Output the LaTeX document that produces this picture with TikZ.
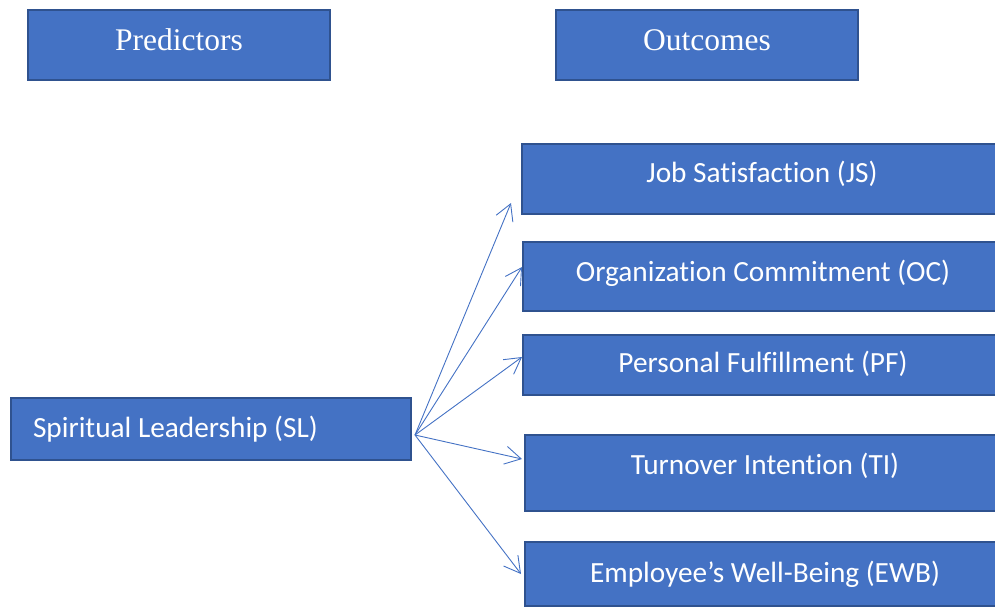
\documentclass[tikz,border=0pt]{standalone}
\usepackage{fontspec}
\setmainfont{Liberation Serif}
\newfontfamily\boxfont{Carlito}[Ligatures=NoCommon]
\usepackage{tikz}
\usetikzlibrary{arrows.meta}

\definecolor{boxblue}{HTML}{4472C4}
\definecolor{boxedge}{HTML}{2F528F}

\begin{document}
\begin{tikzpicture}[x=1pt,y=-1pt,
  head/.style={draw=boxedge, fill=boxblue, line width=1.5pt, text=white,
    minimum width=302pt, minimum height=70pt, inner sep=0pt,
    font=\fontsize{31.5}{36}\selectfont},
  var/.style={draw=boxedge, fill=boxblue, line width=1.5pt, text=white,
    minimum width=480pt, inner sep=0pt,
    font=\boxfont\fontsize{29.3}{34}\selectfont},
  % baseline sits #1/2 below the box centre
  drop/.style={text height=#1, text depth=0pt},
  arr/.style={draw=boxblue, line width=0.9pt,
    -{Straight Barb[length=16pt,width=18pt]}}]

\clip (0,0) rectangle (995,606);

% column headings
\node [head, drop=11pt] (pred) at (179,45) {Predictors};
\node [head, drop=11pt] (outc) at (707,45) {Outcomes};

% outcome boxes
\node [var, drop=6pt, minimum height=70pt] (js) at (762,179) {Job Satisfaction (JS)};
\node [var, drop=10pt, minimum height=69pt] (oc) at (763,276.5) {Organization Commitment (OC)};
\node [var, drop=14.6pt, minimum height=60pt] (pf) at (763,365) {Personal Fulfillment (PF)};
\node [var, drop=2.6pt, minimum height=76pt] (ti) at (765,473) {Turnover Intention (TI)};
\node [var, drop=16.6pt, minimum height=64pt] (ewb) at (765,574) {Employee’s Well-Being (EWB)};

% predictor
\node [var, drop=16.6pt, minimum width=0pt, text width=356pt, inner xsep=22pt,
  minimum height=62pt, align=flush left] (sl) at (211,429) {Spiritual Leadership (SL)};

\coordinate (fan) at (415,435);
\coordinate (js-in) at (511,203);
\coordinate (oc-in) at (522,267);
\coordinate (pf-in) at (522,357);
\coordinate (ti-in) at (522,459);
\coordinate (ewb-in) at (521,574);

\draw [arr] (fan) -- (js-in);
\draw [arr] (fan) -- (oc-in);
\draw [arr] (fan) -- (pf-in);
\draw [arr] (fan) -- (ti-in);
\draw [arr] (fan) -- (ewb-in);

\end{tikzpicture}
\end{document}
